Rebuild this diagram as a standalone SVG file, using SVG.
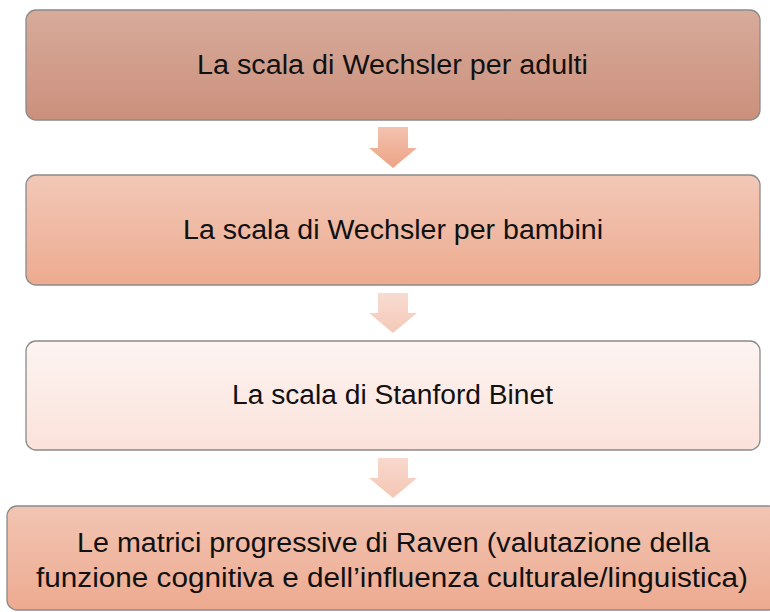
<svg xmlns="http://www.w3.org/2000/svg" width="770" height="612" viewBox="0 0 770 612">
<defs>
<linearGradient id="g1" x1="0" y1="0" x2="0" y2="1"><stop offset="0" stop-color="#d8ab9b"/><stop offset="1" stop-color="#cb907c"/></linearGradient>
<linearGradient id="g2" x1="0" y1="0" x2="0" y2="1"><stop offset="0" stop-color="#f2c8b7"/><stop offset="1" stop-color="#edab90"/></linearGradient>
<linearGradient id="g3" x1="0" y1="0" x2="0" y2="1"><stop offset="0" stop-color="#fdf4f2"/><stop offset="1" stop-color="#fbe2da"/></linearGradient>
<linearGradient id="g4" x1="0" y1="0" x2="0" y2="1"><stop offset="0" stop-color="#f2c5b3"/><stop offset="1" stop-color="#edaa90"/></linearGradient>
<linearGradient id="a1" x1="0" y1="0" x2="0" y2="1"><stop offset="0" stop-color="#f3c3b0"/><stop offset="1" stop-color="#eca385"/></linearGradient>
<linearGradient id="a2" x1="0" y1="0" x2="0" y2="1"><stop offset="0" stop-color="#f8dcd1"/><stop offset="1" stop-color="#f4c9b8"/></linearGradient>
<linearGradient id="a3" x1="0" y1="0" x2="0" y2="1"><stop offset="0" stop-color="#f8d9cd"/><stop offset="1" stop-color="#f4c6b4"/></linearGradient>
</defs>
<style>
.box{stroke:#8a8a8a;stroke-width:1.3}
.t{font-family:"Liberation Sans",Arial,sans-serif;font-size:27px;fill:#111;text-anchor:middle}
</style>
<rect width="770" height="612" fill="#fff"/>
<g id="connectors">
<path d="M378 127 H408 V148 H417 L393 168 L369 148 H378 Z" fill="url(#a1)"/>
<path d="M378 293 H408 V313 H417 L393 333 L369 313 H378 Z" fill="url(#a2)"/>
<path d="M378 458 H408 V478 H417 L393 498 L369 478 H378 Z" fill="url(#a3)"/>
</g>
<g id="n1">
<rect class="box" x="26" y="10" width="734" height="110" rx="10" fill="url(#g1)"/>
<text class="t" x="392.5" y="74" textLength="391" lengthAdjust="spacingAndGlyphs">La scala di Wechsler per adulti</text>
</g>
<g id="n2">
<rect class="box" x="26" y="175" width="734" height="110" rx="10" fill="url(#g2)"/>
<text class="t" x="393" y="239" textLength="420" lengthAdjust="spacingAndGlyphs">La scala di Wechsler per bambini</text>
</g>
<g id="n3">
<rect class="box" x="26" y="341" width="734" height="109" rx="10" fill="url(#g3)"/>
<text class="t" x="392.5" y="404" textLength="321" lengthAdjust="spacingAndGlyphs">La scala di Stanford Binet</text>
</g>
<g id="n4">
<rect class="box" x="7" y="506" width="772" height="104" rx="10" fill="url(#g4)"/>
<text class="t" x="393.5" y="552" textLength="633" lengthAdjust="spacingAndGlyphs">Le matrici progressive di Raven (valutazione della</text>
<text class="t" x="392" y="587" textLength="712" lengthAdjust="spacingAndGlyphs">funzione cognitiva e dell’influenza culturale/linguistica)</text>
</g>
</svg>
